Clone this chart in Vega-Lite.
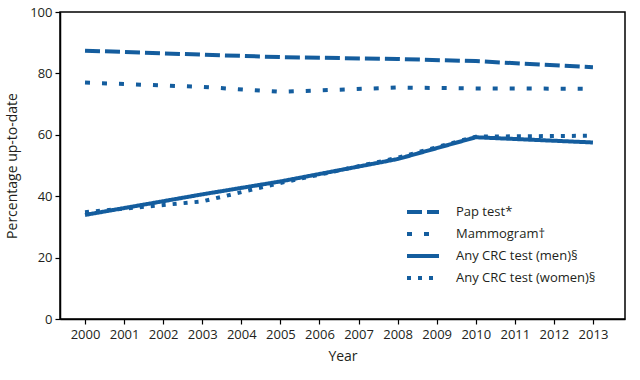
{
  "$schema": "https://vega.github.io/schema/vega-lite/v6.json",
  "width": 565,
  "height": 307,
  "autosize": "none",
  "padding": {"left": 60, "top": 12, "right": 15, "bottom": 61},
  "background": "white",
  "config": {
    "font": "Open Sans",
    "view": {"stroke": "#000000", "strokeWidth": 1.5},
    "axis": {"labelColor": "#231f20", "titleColor": "#231f20", "labelFontSize": 13, "titleFontSize": 14, "titleFontWeight": "normal", "domainColor": "#000000", "tickColor": "#000000", "tickSize": 5, "domainWidth": 1.5, "tickWidth": 1.2, "grid": false}
  },
  "data": {"values": [
    {"year": 2000, "series": "Pap test*", "value": 87.4},
    {"year": 2003, "series": "Pap test*", "value": 86.1},
    {"year": 2005, "series": "Pap test*", "value": 85.3},
    {"year": 2008, "series": "Pap test*", "value": 84.7},
    {"year": 2010, "series": "Pap test*", "value": 84.0},
    {"year": 2013, "series": "Pap test*", "value": 82.0},
    {"year": 2000, "series": "Mammogram†", "value": 77.0},
    {"year": 2003, "series": "Mammogram†", "value": 75.6},
    {"year": 2005, "series": "Mammogram†", "value": 74.0},
    {"year": 2008, "series": "Mammogram†", "value": 75.4},
    {"year": 2010, "series": "Mammogram†", "value": 75.1},
    {"year": 2013, "series": "Mammogram†", "value": 75.0},
    {"year": 2000, "series": "Any CRC test (men)§", "value": 33.9},
    {"year": 2003, "series": "Any CRC test (men)§", "value": 40.6},
    {"year": 2005, "series": "Any CRC test (men)§", "value": 44.8},
    {"year": 2008, "series": "Any CRC test (men)§", "value": 52.1},
    {"year": 2010, "series": "Any CRC test (men)§", "value": 59.2},
    {"year": 2013, "series": "Any CRC test (men)§", "value": 57.5},
    {"year": 2000, "series": "Any CRC test (women)§", "value": 34.8},
    {"year": 2003, "series": "Any CRC test (women)§", "value": 38.3},
    {"year": 2005, "series": "Any CRC test (women)§", "value": 44.3},
    {"year": 2008, "series": "Any CRC test (women)§", "value": 52.5},
    {"year": 2010, "series": "Any CRC test (women)§", "value": 59.4},
    {"year": 2013, "series": "Any CRC test (women)§", "value": 59.7}
  ]},
  "mark": {"type": "line", "strokeWidth": 4, "color": "#145d9e", "strokeCap": "butt"},
  "encoding": {
    "x": {"field": "year", "type": "quantitative", "scale": {"domain": [1999.36, 2013.82], "nice": false, "zero": false}, "axis": {"values": [2000,2001,2002,2003,2004,2005,2006,2007,2008,2009,2010,2011,2012,2013], "format": "d", "title": "Year", "labelPadding": 4, "titlePadding": 8}},
    "y": {"field": "value", "type": "quantitative", "scale": {"domain": [0, 100], "nice": false}, "axis": {"values": [0,20,40,60,80,100], "title": "Percentage up-to-date", "titlePadding": 10, "labelPadding": 3}},
    "strokeDash": {"field": "series", "type": "nominal", "sort": ["Pap test*", "Mammogram†", "Any CRC test (men)§", "Any CRC test (women)§"],
      "scale": {"domain": ["Pap test*", "Mammogram†", "Any CRC test (men)§", "Any CRC test (women)§"], "range": [[15, 5], [5, 12], [1, 0], [4, 7]]},
      "legend": {"title": null, "orient": "none", "legendX": 351, "legendY": 188, "symbolType": "M-1.6,0H1.6", "symbolSize": 400, "symbolFillColor": "transparent", "symbolStrokeWidth": 4, "symbolStrokeColor": "#145d9e", "labelFontSize": 13, "labelColor": "#231f20", "labelOffset": 21, "rowPadding": 2}
    }
  }
}
